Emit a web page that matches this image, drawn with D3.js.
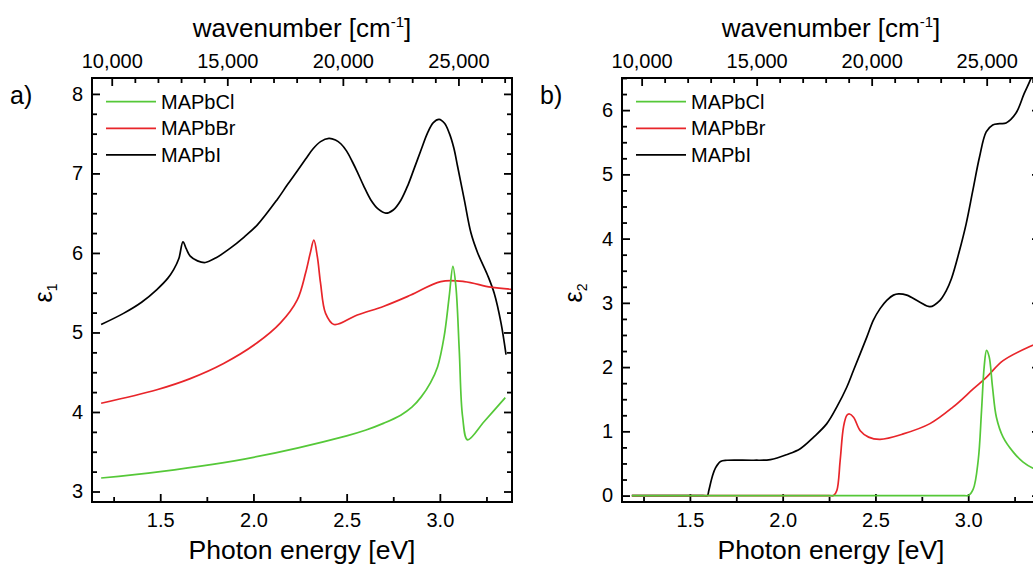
<!DOCTYPE html>
<html><head><meta charset="utf-8">
<script src="https://cdn.jsdelivr.net/npm/d3@7/dist/d3.min.js"></script>
<style>
body{margin:0;background:#fff;overflow:hidden}
text{font-family:"Liberation Sans",Arial,sans-serif;fill:#000}
</style>
</head><body>
<svg id="chart" width="1033" height="566"></svg>
<script>
// ---------- data ----------
const seriesNames = ["MAPbCl", "MAPbBr", "MAPbI"];
const panelLabels = ["a)", "b)"];
const yLabels = ["1", "2"]; // subscripts of epsilon
const xTitle = "Photon energy [eV]";
const topTitle = "wavenumber [cm";
const topTitleSup = "-1";
const eVperCm = 1 / 8065.54;

const xTicksMajor = [1.5, 2.0, 2.5, 3.0];
const xTicksMinor = [1.25, 1.75, 2.25, 2.75, 3.25];
const wnTicksMajor = [10000, 15000, 20000, 25000];
const wnTicksMinor = [11000,12000,13000,14000,16000,17000,18000,19000,21000,22000,23000,24000,26000,27000];
const yTicksA = [3, 4, 5, 6, 7, 8];
const yTicksB = [0, 1, 2, 3, 4, 5, 6];

// eps1 (panel a)
const e1_I_x = [1.183,1.303,1.40,1.482,1.54,1.572,1.60,1.622,1.64,1.661,1.70,1.742,1.80,1.876,1.95,2.02,2.127,2.18,2.235,2.28,2.32,2.36,2.405,2.44,2.47,2.50,2.53,2.557,2.59,2.629,2.67,2.71,2.75,2.79,2.83,2.862,2.90,2.934,2.965,2.996,3.025,3.05,3.075,3.095,3.131,3.167,3.203,3.256,3.292,3.328,3.355];
const e1_I_y = [5.10,5.24,5.38,5.54,5.68,5.79,5.93,6.14,6.05,5.96,5.90,5.88,5.94,6.06,6.20,6.35,6.67,6.85,7.03,7.18,7.31,7.40,7.44,7.42,7.37,7.28,7.15,7.02,6.85,6.67,6.55,6.50,6.54,6.66,6.86,7.06,7.30,7.51,7.64,7.68,7.63,7.51,7.32,7.09,6.67,6.25,6.00,5.72,5.49,5.12,4.72];
const e1_Br_x = [1.183,1.482,1.661,1.84,2.02,2.145,2.235,2.28,2.305,2.324,2.343,2.36,2.387,2.432,2.557,2.70,2.844,3.005,3.131,3.274,3.40];
const e1_Br_y = [4.11,4.28,4.42,4.61,4.87,5.12,5.41,5.75,6.00,6.16,5.95,5.62,5.24,5.10,5.22,5.33,5.47,5.64,5.64,5.57,5.54];
const e1_Cl_x = [1.183,1.5,2.0,2.5,2.6,2.7,2.79,2.85,2.9,2.95,2.988,3.023,3.05,3.07,3.086,3.104,3.122,3.149,3.238,3.351];
const e1_Cl_y = [3.17,3.25,3.43,3.70,3.77,3.86,3.96,4.06,4.19,4.37,4.57,4.95,5.45,5.83,5.58,4.78,3.94,3.65,3.88,4.18];

// eps2 (panel b)
const e2_I_x = [1.187,1.57,1.594,1.602,1.62,1.638,1.665,1.70,1.844,1.934,2.024,2.095,2.167,2.238,2.292,2.346,2.382,2.454,2.489,2.525,2.561,2.597,2.624,2.669,2.74,2.794,2.848,2.88,2.91,2.95,2.989,3.025,3.061,3.097,3.132,3.17,3.204,3.257,3.302,3.338,3.37];
const e2_I_y = [0,0,0,0.08,0.29,0.43,0.53,0.55,0.55,0.56,0.64,0.73,0.91,1.12,1.38,1.69,1.95,2.47,2.73,2.91,3.04,3.12,3.14,3.12,3.01,2.94,3.04,3.18,3.38,3.78,4.23,4.75,5.27,5.66,5.77,5.79,5.80,5.95,6.26,6.49,6.75];
const e2_Br_x = [1.187,2.25,2.274,2.292,2.31,2.328,2.346,2.36,2.382,2.418,2.463,2.525,2.65,2.794,2.919,3.027,3.098,3.188,3.347,3.40];
const e2_Br_y = [0,0,0,0.08,0.55,1.07,1.25,1.27,1.22,1.01,0.91,0.875,0.96,1.12,1.38,1.66,1.84,2.10,2.34,2.40];
const e2_Cl_x = [1.187,2.98,3.0,3.027,3.054,3.072,3.086,3.099,3.113,3.131,3.152,3.188,3.242,3.296,3.347,3.40];
const e2_Cl_y = [0,0,0,0.10,0.55,1.33,2.00,2.26,2.16,1.69,1.22,0.91,0.68,0.52,0.43,0.39];

// ---------- styles ----------
const colors = {MAPbCl: "#55c838", MAPbBr: "#e8252a", MAPbI: "#000000"};
const xDomain = [1.134, 3.387];

const svg = d3.select("#chart");

function zip(xs, ys){ return xs.map((x,i)=>({x, y: ys[i]})); }

function drawPanel(cfg){
  const {left, right, top, bottom, yDomain, yTicks, yMinorStep, series, label, sub, id} = cfg;
  const x = d3.scaleLinear().domain(xDomain).range([left, right]);
  const y = d3.scaleLinear().domain(yDomain).range([bottom, top]);
  const g = svg.append("g");

  g.append("clipPath").attr("id", "clip"+id).append("rect")
    .attr("x", left).attr("y", top).attr("width", right-left).attr("height", bottom-top);

  const yMinor = [];
  for (let v = Math.ceil(yDomain[0]/yMinorStep)*yMinorStep; v <= yDomain[1]+1e-9; v += yMinorStep) {
    if (!yTicks.some(t => Math.abs(t-v) < 1e-6)) yMinor.push(+v.toFixed(3));
  }

  const styleAxis = sel => { sel.select(".domain").remove(); sel.selectAll("line").attr("stroke","#000").attr("stroke-width",1.8); sel.selectAll("text").attr("font-size",20).attr("font-family","Liberation Sans, Arial, sans-serif"); };

  g.append("g").attr("transform",`translate(0,${bottom})`)
    .call(d3.axisBottom(x).tickValues(xTicksMajor).tickSize(-8).tickPadding(11).tickFormat(d3.format(".1f"))).call(styleAxis);
  g.append("g").attr("transform",`translate(0,${bottom})`)
    .call(d3.axisBottom(x).tickValues(xTicksMinor).tickSize(-5).tickFormat("")).call(styleAxis);
  const wnScale = d3.scaleLinear().domain(xDomain.map(e => e/eVperCm)).range([left, right]);
  g.append("g").attr("transform",`translate(0,${top})`)
    .call(d3.axisTop(wnScale).tickValues(wnTicksMajor).tickSize(-8).tickPadding(10).tickFormat(d3.format(","))).call(styleAxis);
  g.append("g").attr("transform",`translate(0,${top})`)
    .call(d3.axisTop(wnScale).tickValues(wnTicksMinor).tickSize(-5).tickFormat("")).call(styleAxis);
  g.append("g").attr("transform",`translate(${left},0)`)
    .call(d3.axisLeft(y).tickValues(yTicks).tickSize(-8).tickPadding(9).tickFormat(d3.format("d"))).call(styleAxis);
  g.append("g").attr("transform",`translate(${left},0)`)
    .call(d3.axisLeft(y).tickValues(yMinor).tickSize(-5).tickFormat("")).call(styleAxis);
  g.append("g").attr("transform",`translate(${right},0)`)
    .call(d3.axisRight(y).tickValues(yTicks).tickSize(-8).tickFormat("")).call(styleAxis);
  g.append("g").attr("transform",`translate(${right},0)`)
    .call(d3.axisRight(y).tickValues(yMinor).tickSize(-5).tickFormat("")).call(styleAxis);

  const line = d3.line().x(d => x(d.x)).y(d => y(d.y)).curve(d3.curveCatmullRom.alpha(0.5));
  const cg = g.append("g").attr("clip-path", `url(#clip${id})`);
  ["MAPbI","MAPbBr","MAPbCl"].forEach(name => {
    cg.append("path").datum(series[name]).attr("d", line)
      .attr("fill","none").attr("stroke", colors[name]).attr("stroke-width",1.7).attr("stroke-linejoin","round");
  });

  g.append("rect").attr("x",left).attr("y",top).attr("width",right-left).attr("height",bottom-top)
    .attr("fill","none").attr("stroke","#000").attr("stroke-width",2);

  seriesNames.forEach((name,i) => {
    const ly = 101.7 + i*26.6;
    g.append("line").attr("x1", left+14).attr("x2", left+64).attr("y1", ly).attr("y2", ly)
      .attr("stroke", colors[name]).attr("stroke-width",1.7);
    g.append("text").attr("x", left+69).attr("y", ly+7).attr("font-size",20).text(name);
  });

  const cx = (left+right)/2;
  g.append("text").attr("x", cx).attr("y", 559).attr("text-anchor","middle").attr("font-size",26.5).text(xTitle);
  const tt = g.append("text").attr("x", cx).attr("y", 37).attr("text-anchor","middle").attr("font-size",26);
  tt.append("tspan").text(topTitle);
  tt.append("tspan").attr("dy",-10).attr("font-size",15).text(topTitleSup);
  tt.append("tspan").attr("dy",10).text("]");

  g.append("text").attr("x", left-82).attr("y", 104).attr("font-size",25).text(label);

  const yl = g.append("text").attr("transform",`translate(${left-40},${(top+bottom)/2+3}) rotate(-90)`)
    .attr("text-anchor","middle").attr("font-size",25);
  yl.append("tspan").text("ε");
  yl.append("tspan").attr("dy",5).attr("font-size",14).text(sub);
}

drawPanel({id:"a", left:92, right:512, top:78, bottom:502, yDomain:[2.868,8.2], yTicks:yTicksA, yMinorStep:0.25,
  label: panelLabels[0], sub: yLabels[0],
  series:{MAPbI: zip(e1_I_x,e1_I_y), MAPbBr: zip(e1_Br_x,e1_Br_y), MAPbCl: zip(e1_Cl_x,e1_Cl_y)}});
drawPanel({id:"b", left:622, right:1040, top:78, bottom:502, yDomain:[-0.1,6.5], yTicks:yTicksB, yMinorStep:0.25,
  label: panelLabels[1], sub: yLabels[1],
  series:{MAPbI: zip(e2_I_x,e2_I_y), MAPbBr: zip(e2_Br_x,e2_Br_y), MAPbCl: zip(e2_Cl_x,e2_Cl_y)}});
</script>
</body></html>
